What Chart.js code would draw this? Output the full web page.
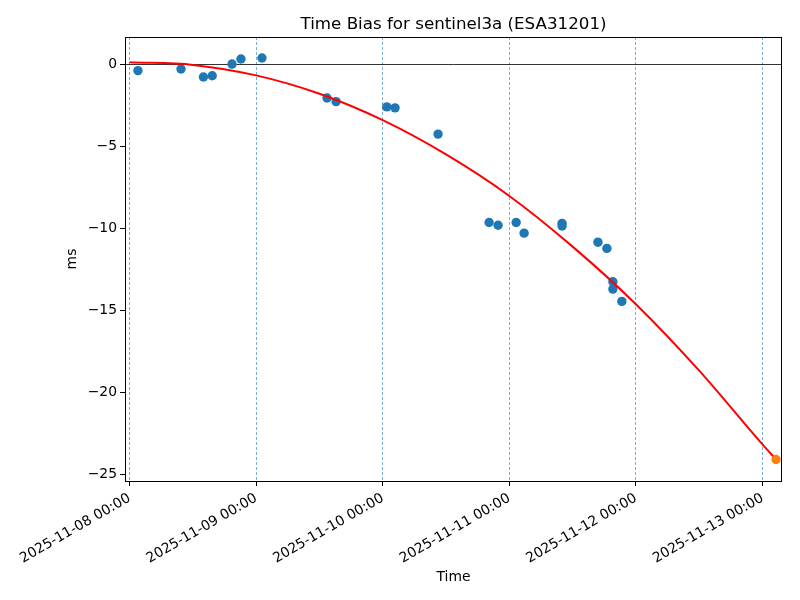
<!DOCTYPE html>
<html>
<head>
<meta charset="utf-8">
<title>Time Bias for sentinel3a (ESA31201)</title>
<script src="https://cdn.jsdelivr.net/npm/chart.js@4"></script>
<style>
    body { margin: 0; background: #fff; }
    #chart { display: block; }
</style>
</head>
<body>
<canvas id="chart" width="800" height="600"></canvas>
<script>
// measured time bias (ms)
const biasTimes = [
    '2025-11-08 01:35', '2025-11-08 09:45', '2025-11-08 14:00', '2025-11-08 15:40',
    '2025-11-08 19:25', '2025-11-08 21:07', '2025-11-09 01:06', '2025-11-09 13:26',
    '2025-11-09 15:09', '2025-11-10 00:46', '2025-11-10 02:20', '2025-11-10 10:29',
    '2025-11-10 20:10', '2025-11-10 21:52', '2025-11-11 01:18', '2025-11-11 02:48',
    '2025-11-11 10:00', '2025-11-11 10:00', '2025-11-11 16:48', '2025-11-11 18:30',
    '2025-11-11 19:38', '2025-11-11 19:38', '2025-11-11 21:20'
];
const biasValues = [
    -0.36, -0.26, -0.75, -0.67,
    0.04, 0.35, 0.41, -2.03,
    -2.25, -2.57, -2.63, -4.23,
    -9.62, -9.79, -9.62, -10.27,
    -9.67, -9.83, -10.82, -11.2,
    -13.23, -13.68, -14.43
];

// fitted curve
const fitTimes = [
    '2025-11-08 00:00', '2025-11-08 12:00', '2025-11-09 00:00', '2025-11-09 12:00',
    '2025-11-10 00:00', '2025-11-10 12:00', '2025-11-11 00:00', '2025-11-11 12:00',
    '2025-11-12 00:00', '2025-11-12 12:00', '2025-11-13 00:00', '2025-11-13 02:34'
];
const fitValues = [0.15, -0.01, -0.65, -1.77, -3.38, -5.47, -8.0, -11.09, -14.6, -18.65, -23.15, -24.07];

// predicted point
const predTimes = ['2025-11-13 02:34'];
const predValues = [-24.07];

const xTickLabels = [
    '2025-11-08 00:00', '2025-11-09 00:00', '2025-11-10 00:00',
    '2025-11-11 00:00', '2025-11-12 00:00', '2025-11-13 00:00'
];
const yTicks = [0, -5, -10, -15, -20, -25];

const startMs = Date.parse('2025-11-08T00:00:00Z');

// hours since 2025-11-08 00:00
function toHours(s) {
    return (Date.parse(s.replace(' ', 'T') + ':00Z') - startMs) / 3600000;
}

function toPoints(times, values) {
    return times.map((t, i) => ({ x: toHours(t), y: values[i] }));
}

const xTickHours = xTickLabels.map(toHours);

Chart.defaults.font.family = "'DejaVu Sans', sans-serif";
Chart.defaults.font.size = 13.9;
Chart.defaults.color = '#000';

// frame round the axes and the title above it
const framePlugin = {
    id: 'frame',
    afterDraw(chart) {
        const { ctx, chartArea } = chart;
        ctx.save();
        ctx.strokeStyle = '#000';
        ctx.lineWidth = 1;
        ctx.strokeRect(chartArea.left + 0.5, chartArea.top + 0.5,
            chartArea.right - chartArea.left - 1, chartArea.bottom - chartArea.top);
        ctx.fillStyle = '#000';
        ctx.font = "16.7px 'DejaVu Sans', sans-serif";
        ctx.textAlign = 'center';
        ctx.textBaseline = 'alphabetic';
        ctx.fillText('Time Bias for sentinel3a (ESA31201)', (chartArea.left + chartArea.right) / 2, 29);
        ctx.restore();
    }
};

const ctx = document.getElementById('chart').getContext('2d');
new Chart(ctx, {
    type: 'scatter',
    data: {
        datasets: [
            {
                label: 'prediction',
                data: toPoints(predTimes, predValues),
                backgroundColor: '#ff7f0e',
                borderWidth: 0,
                pointRadius: 4.7,
                order: 0
            },
            {
                label: 'fit',
                data: toPoints(fitTimes, fitValues),
                showLine: true,
                borderColor: '#ff0000',
                borderWidth: 2,
                pointRadius: 0,
                cubicInterpolationMode: 'monotone',
                order: 1
            },
            {
                label: 'time bias',
                data: toPoints(biasTimes, biasValues),
                backgroundColor: '#1f77b4',
                borderWidth: 0,
                pointRadius: 4.7,
                order: 2
            }
        ]
    },
    options: {
        responsive: false,
        animation: false,
        layout: {
            padding: { top: 37, right: 18, bottom: 0, left: 0 }
        },
        plugins: {
            legend: { display: false },
            tooltip: { enabled: false },
            title: { display: false }
        },
        scales: {
            x: {
                type: 'linear',
                min: -0.87,
                max: 123.7,
                afterFit: scale => { scale.height = 119; },
                afterBuildTicks: scale => {
                    scale.ticks = xTickHours.map(v => ({ value: v }));
                },
                ticks: {
                    autoSkip: false,
                    minRotation: 30,
                    maxRotation: 30,
                    padding: 4,
                    callback: (value, index) => xTickLabels[index]
                },
                grid: {
                    color: 'rgba(31, 119, 180, 0.75)',
                    lineWidth: 0.8,
                    tickColor: '#000',
                    tickLength: 5,
                    tickWidth: 1
                },
                border: { display: false, dash: [3, 2] },
                title: {
                    display: true,
                    text: 'Time',
                    font: { size: 13.9 },
                    padding: { top: 4, bottom: 14.5 }
                }
            },
            y: {
                min: -25.38,
                max: 1.69,
                afterFit: scale => { scale.width = 125; },
                afterBuildTicks: scale => {
                    scale.ticks = yTicks.map(v => ({ value: v }));
                },
                ticks: {
                    padding: 3,
                    callback: value => value < 0 ? '\u2212' + Math.abs(value) : String(value)
                },
                grid: {
                    color: c => (c.tick && c.tick.value === 0) ? '#000' : 'rgba(0, 0, 0, 0)',
                    lineWidth: 0.8,
                    tickColor: '#000',
                    tickLength: 5,
                    tickWidth: 1
                },
                border: { display: false },
                title: {
                    display: true,
                    text: 'ms',
                    font: { size: 13.9 },
                    padding: { top: 64, bottom: 0 }
                }
            }
        }
    },
    plugins: [framePlugin]
});
</script>
</body>
</html>
